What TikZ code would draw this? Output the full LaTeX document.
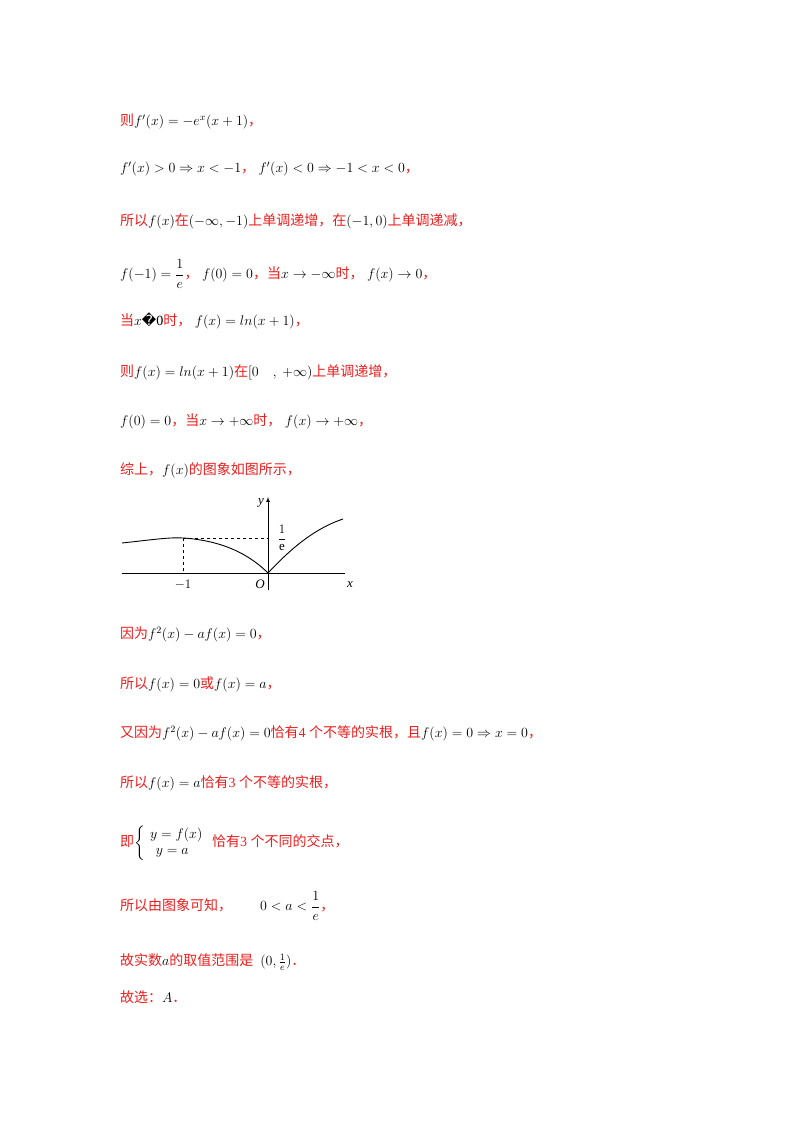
\RequirePackage{fix-cm}
\documentclass[tikz,border=0pt]{standalone}
\usepackage{amsmath}
\usepackage{fontspec}
\setmainfont{Liberation Serif}
\newfontfamily\cjk{Noto Sans CJK SC}
\newfontfamily\dvs{DejaVu Sans}
\definecolor{rd}{RGB}{235,30,30}
\newcommand{\R}[1]{\textcolor{rd}{\cjk #1}}
\begin{document}
\begin{tikzpicture}[x=1pt,y=-1pt,
  ln/.style={anchor=west,inner sep=0pt,font=\fontsize{14}{16}\selectfont},
  ax/.style={line width=0.7pt}]
\useasboundingbox (0,0) rectangle (800,1132);
\node[ln] (l1) at (120,121) {\R{则}$f'(x)=-e^x(x+1)$\R{，}};
\node[ln] (l2) at (120,169) {$f'(x)>0\Rightarrow x<-1$\R{，}\ $f'(x)<0\Rightarrow -1<x<0$\R{，}};
\node[ln] (l3) at (120,221) {\R{所以}$f(x)$\R{在}$(-\infty,-1)$\R{上单调递增，在}$(-1,0)$\R{上单调递减，}};
\node[ln] (l4) at (120,274) {$f(-1)=\dfrac{1}{e}$\R{，}\ $f(0)=0$\R{，当}$x\to-\infty$\R{时，}\ $f(x)\to0$\R{，}};
\node[ln] (l5) at (120,321) {\R{当}$x${\dvs �}0\R{时，}\ $f(x)=ln(x+1)$\R{，}};
\node[ln] (l6) at (120,372) {\R{则}$f(x)=ln(x+1)$\R{在}$[0\quad,\ +\infty)$\R{上单调递增，}};
\node[ln] (l7) at (120,421) {$f(0)=0$\R{，当}$x\to+\infty$\R{时，}\ $f(x)\to+\infty$\R{，}};
\node[ln] (l8) at (120,470) {\R{综上，}$f(x)$\R{的图象如图所示，}};
% graph
\coordinate (O) at (268,573);
\draw[ax] (122,573) -- (345,573);
\draw[ax,-latex] (268,590) -- (268,497);
\draw[line width=0.9pt] (122,543) .. controls (150,540) and (170,537) .. (183,538)
  .. controls (215,540) and (245,550) .. (O);
\draw[line width=0.9pt] (O) .. controls (285,555) and (310,530) .. (343,519);
\draw[dashed,line width=0.5pt] (183,538) -- (183,573);
\draw[dashed,line width=0.5pt] (183,538) -- (268,538);
\node[font=\itshape\fontsize{13}{13}\selectfont] (ly) at (261,503) {y};
\node[font=\itshape\fontsize{13}{13}\selectfont] (lx) at (350,585) {x};
\node[font=\itshape\fontsize{13}{13}\selectfont] (lo) at (260,584) {O};
\node[font=\fontsize{13}{13}\selectfont] (lm) at (183,585) {$-1$};
\node[font=\fontsize{13}{13}\selectfont,inner sep=0pt] (le) at (282,538) {$\dfrac{1}{\mathrm{e}}$};
\node[ln] (l9) at (120,634) {\R{因为}$f^2(x)-af(x)=0$\R{，}};
\node[ln] (l10) at (120,684) {\R{所以}$f(x)=0$\R{或}$f(x)=a$\R{，}};
\node[ln] (l11) at (120,733) {\R{又因为}$f^2(x)-af(x)=0$\R{恰有}\textcolor{rd}{ 4 }\R{个不等的实根，且}$f(x)=0\Rightarrow x=0$\R{，}};
\node[ln] (l12) at (120,783) {\R{所以}$f(x)=a$\R{恰有}\textcolor{rd}{ 3 }\R{个不等的实根，}};
\node[ln] (l13) at (120,843) {\R{即}$\left\{\begin{array}{l}y=f(x)\\ \ \,y=a\end{array}\right.$\ \R{恰有}\textcolor{rd}{ 3 }\R{个不同的交点，}};
\node[ln] (l14) at (120,906) {\R{所以由图象可知，}\qquad$0<a<\dfrac{1}{e}$\R{，}};
\node[ln] (l15) at (120,962) {\R{故实数}$a$\R{的取值范围是}\ \ $(0,\frac{1}{e})$\R{．}};
\node[ln] (l16) at (120,997) {\R{故选：}$A$\R{．}};
\end{tikzpicture}
\end{document}
